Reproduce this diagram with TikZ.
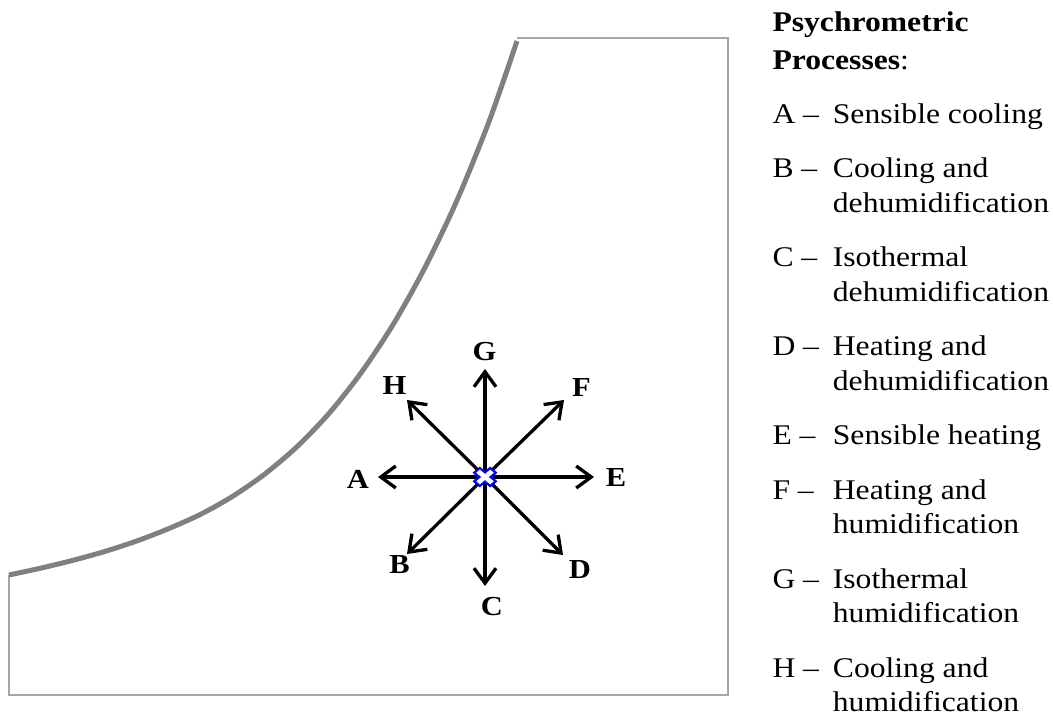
\documentclass[tikz,border=0pt]{standalone}
\usepackage{fontspec}
\setmainfont{Liberation Serif}[FakeStretch=1.11]
\usetikzlibrary{arrows.meta}
\definecolor{boxgray}{HTML}{A6A6A6}
\definecolor{curvegray}{HTML}{808080}
\definecolor{xblue}{HTML}{0000FF}
\begin{document}
\begin{tikzpicture}[x=1pt,y=-1pt,
  frame/.style={draw=boxgray, line width=1.4pt},
  sat/.style={draw=curvegray, line width=5pt},
  proc/.style={line width=3.3pt, -{Straight Barb[length=15pt,width=22pt]}},
  plab/.style={font=\fontsize{27.5}{30}\selectfont\bfseries, anchor=base, inner sep=0pt},
  ltxt/.style={font=\fontsize{28.5}{34}\selectfont, anchor=base west, inner sep=0pt},
  ltitle/.style={font=\fontsize{28.5}{34}\selectfont, anchor=base west, inner sep=0pt},
]
\useasboundingbox (0,0) rectangle (1053,717);

% chart frame
\coordinate (f1) at (517,38);
\coordinate (f2) at (728,38);
\coordinate (f3) at (728,695);
\coordinate (f4) at (9,695);
\coordinate (f5) at (9,575);
\draw[frame] (f1) -- (f2) -- (f3) -- (f4) -- (f5);

% saturation curve
\draw[sat, line cap=butt] plot[smooth, tension=0.5] coordinates {
  (9,575) (41,568.1) (73,560.3) (105,551.4) (137,540.9) (169,528.5) (201,514.1)
  (233,496.1) (265,473.9) (297,446.7) (329,413.4) (361,372.9) (393,324.7)
  (425,267.4) (457,200.3) (489,121.6) (517,41)};

% process arrows
\coordinate (O) at (485,477);
\coordinate (tA) at (378,477);
\coordinate (tE) at (594,477);
\coordinate (tG) at (485,369);
\coordinate (tC) at (485,586);
\coordinate (tF) at (564,400);
\coordinate (tH) at (407,400);
\coordinate (tB) at (407,554);
\coordinate (tD) at (563,555);
\foreach \t in {tA,tB,tC,tD,tE,tF,tG,tH} { \draw[proc] (O) -- (\t); }

% state point marker
\draw[draw=xblue, fill=white, line width=2.2pt, shift={(O)}, xscale=1.2, rotate=45]
  (3.3,3.3) -- (9.4,3.3) -- (9.4,-3.3) -- (3.3,-3.3) -- (3.3,-9.4) -- (-3.3,-9.4) --
  (-3.3,-3.3) -- (-9.4,-3.3) -- (-9.4,3.3) -- (-3.3,3.3) -- (-3.3,9.4) -- (3.3,9.4) -- cycle;

% arrow labels
\node[plab] (lA) at (358,488.5) {A};
\node[plab] (lB) at (399.5,573.5) {B};
\node[plab] (lC) at (492,615.5) {C};
\node[plab] (lD) at (580,578) {D};
\node[plab] (lE) at (616,486.5) {E};
\node[plab] (lF) at (581.5,396.5) {F};
\node[plab] (lG) at (484.5,360.5) {G};
\node[plab] (lH) at (394.5,394.5) {H};

% legend
\node[ltitle] (t1) at (772.3,31.7) {\textbf{Psychrometric}};
\node[ltitle] (t2) at (772.3,69.3) {\textbf{Processes}:};

\node[ltxt] (kA) at (772.3,123.3) {A –};
\node[ltxt] (dA) at (832.7,123.3) {Sensible cooling};
\node[ltxt] (kB) at (772.3,177.9) {B –};
\node[ltxt] (dB1) at (832.7,177.9) {Cooling and};
\node[ltxt] (dB2) at (832.7,212.2) {dehumidification};
\node[ltxt] (kC) at (772.3,266.8) {C –};
\node[ltxt] (dC1) at (832.7,266.8) {Isothermal};
\node[ltxt] (dC2) at (832.7,301.1) {dehumidification};
\node[ltxt] (kD) at (772.3,355.7) {D –};
\node[ltxt] (dD1) at (832.7,355.7) {Heating and};
\node[ltxt] (dD2) at (832.7,390.0) {dehumidification};
\node[ltxt] (kE) at (772.3,444.6) {E –};
\node[ltxt] (dE) at (832.7,444.6) {Sensible heating};
\node[ltxt] (kF) at (772.3,499.2) {F –};
\node[ltxt] (dF1) at (832.7,499.2) {Heating and};
\node[ltxt] (dF2) at (832.7,533.5) {humidification};
\node[ltxt] (kG) at (772.3,588.1) {G –};
\node[ltxt] (dG1) at (832.7,588.1) {Isothermal};
\node[ltxt] (dG2) at (832.7,622.4) {humidification};
\node[ltxt] (kH) at (772.3,677.0) {H –};
\node[ltxt] (dH1) at (832.7,677.0) {Cooling and};
\node[ltxt] (dH2) at (832.7,711.3) {humidification};
\end{tikzpicture}
\end{document}
